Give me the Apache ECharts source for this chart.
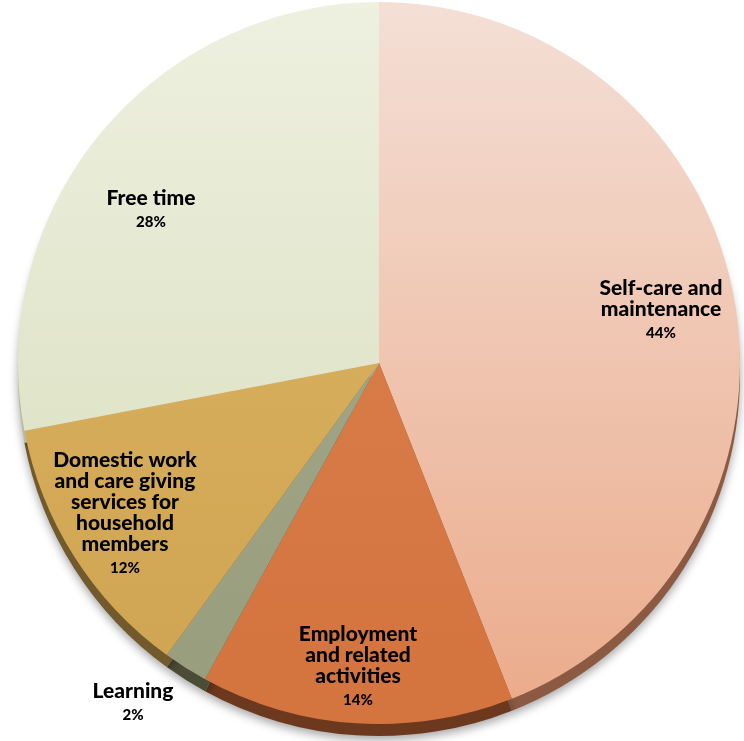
<!DOCTYPE html>
<html>
<head>
<meta charset="utf-8">
<script src="https://cdn.jsdelivr.net/npm/echarts@6/dist/echarts.min.js"></script>
<style>
  html, body { margin: 0; padding: 0; background: #ffffff; }
  #chart { width: 744px; height: 741px; }
</style>
</head>
<body>
<div id="chart"></div>
<script>
// Share of the day spent on each activity group (%)
const categories = [
  'Self-care and maintenance',
  'Employment and related activities',
  'Learning',
  'Domestic work and care giving services for household members',
  'Free time'
];
const shares = [44, 14, 2, 12, 28];

// How each category name is broken over lines in its label
const labelLines = [
  ['Self-care and', 'maintenance'],
  ['Employment', 'and related', 'activities'],
  ['Learning'],
  ['Domestic work', 'and care giving', 'services for', 'household', 'members'],
  ['Free time']
];

// Face colours (top to bottom gradient) and the darker rim colour of each slice
const faceTop = ['#f4dfd6', '#d77b47', '#a0a486', '#d6ad5a', '#eef0e0'];
const faceBottom = ['#ebac8c', '#d4743f', '#999e7e', '#d0a553', '#e0e4c8'];
const rimColors = ['#8c5a42', '#6c391e', '#4a4c36', '#725a2c', '#b9bd9f'];

// Label anchor points (centre of each text block), in pixels
const labelAnchor = [
  [661, 312],
  [358, 669],
  [133, 705],
  [125, 516],
  [151, 212]
];

const cx = 379, cy = 363, radius = 361, depth = 12;

const faceData = categories.map((name, i) => ({
  name: name,
  value: shares[i],
  itemStyle: {
    color: {
      type: 'linear', x: 0, y: 0, x2: 0, y2: 1,
      colorStops: [
        { offset: 0, color: faceTop[i] },
        { offset: 1, color: faceBottom[i] }
      ]
    }
  }
}));

const rimData = categories.map((name, i) => ({
  name: name,
  value: shares[i],
  itemStyle: { color: rimColors[i] }
}));

const chart = echarts.init(document.getElementById('chart'), null, { renderer: 'canvas' });

const fontStack = 'Lato, "DejaVu Sans", sans-serif';

chart.setOption({
  animation: false,
  backgroundColor: '#ffffff',
  series: [
    {
      // side wall of the disc, peeking out below the face
      type: 'pie',
      z: 1,
      silent: true,
      startAngle: 90,
      clockwise: true,
      center: [cx, cy + depth],
      radius: [0, radius],
      label: { show: false },
      labelLine: { show: false },
      itemStyle: {
        shadowBlur: 10,
        shadowColor: 'rgba(0,0,0,0.35)',
        shadowOffsetY: 4
      },
      data: rimData
    },
    {
      type: 'pie',
      z: 2,
      startAngle: 90,
      clockwise: true,
      center: [cx, cy],
      radius: [0, radius],
      labelLine: { show: false },
      label: {
        show: true,
        position: 'inside',
        formatter: function (p) {
          const lines = labelLines[p.dataIndex].map(t => '{n|' + t + '}');
          lines.push('{p|' + p.value + '%}');
          return lines.join('\n');
        },
        rich: {
          n: {
            fontFamily: fontStack,
            fontWeight: 900,
            fontSize: 21,
            lineHeight: 21,
            color: '#000000',
            align: 'center'
          },
          p: {
            fontFamily: fontStack,
            fontWeight: 900,
            fontSize: 15,
            lineHeight: 27,
            color: '#000000',
            align: 'center'
          }
        }
      },
      labelLayout: function (params) {
        const a = labelAnchor[params.dataIndex];
        return { x: a[0], y: a[1], align: 'center', verticalAlign: 'middle' };
      },
      data: faceData
    }
  ]
});
</script>
</body>
</html>
